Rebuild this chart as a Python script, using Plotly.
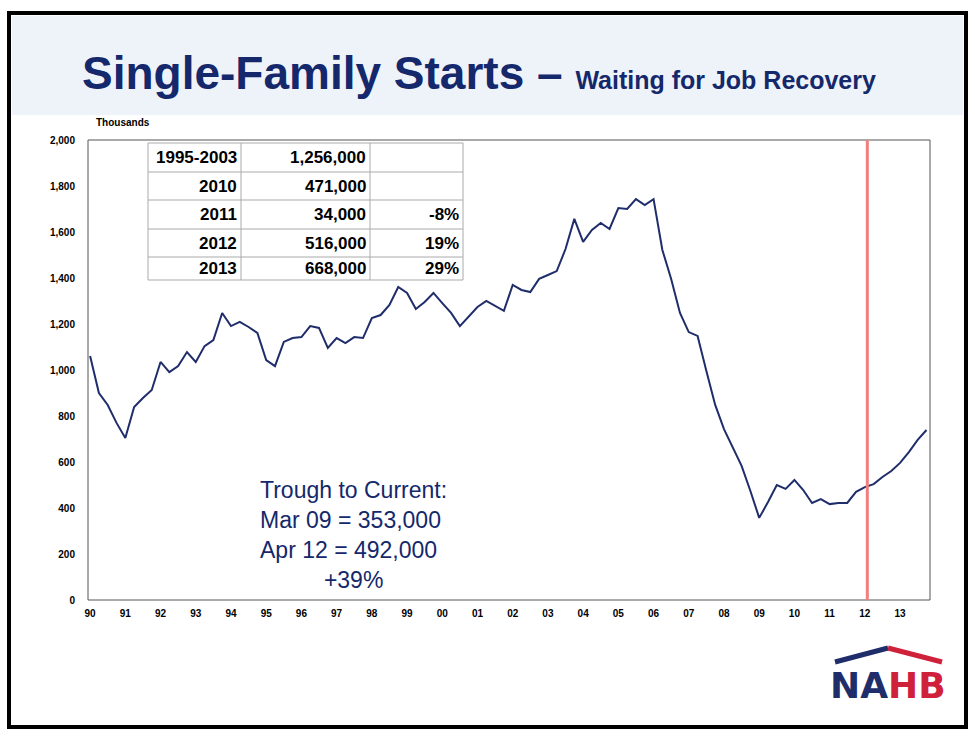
import plotly.graph_objects as go

starts = [1061,900,848,770,704,839,878,913,1035,991,1017,1078,1035,1104,1130,1248,
1191,1209,1187,1161,1043,1017,1122,1139,1143,1191,1183,1096,1139,1117,1143,1139,
1226,1239,1283,1361,1335,1265,1296,1335,1291,1248,1191,1235,1274,1300,1278,1257,
1370,1348,1339,1396,1413,1430,1526,1657,1557,1609,1639,1613,1704,1700,1743,1717,
1743,1522,1396,1248,1165,1148,996,848,743,665,583,474,357,426,500,483,
522,478,422,439,417,422,422,470,491,504,535,561,596,643,696,739]
dates = [1990 + i*0.25 for i in range(len(starts))]
tick_vals = list(range(1990, 2014))
tick_text = [f"{y%100:02d}" for y in tick_vals]
tbl_label = ["1995-2003", "2010", "2011", "2012", "2013"]
tbl_value = ["1,256,000", "471,000", "34,000", "516,000", "668,000"]
tbl_pct = ["", "", "-8%", "19%", "29%"]

W, H = 975, 736
L, R, T, B = 88, 930, 140, 600
def px(x): return (x - L) / (R - L)
def py(y): return (B - y) / (B - T)

fig = go.Figure(go.Scatter(x=dates, y=starts, mode="lines",
                           line=dict(color="#1f2d6b", width=2), hoverinfo="skip"))
shapes = [
    dict(type="rect", xref="paper", yref="paper", x0=px(9), x1=px(966), y0=py(727), y1=py(13),
         line=dict(color="black", width=4), fillcolor="rgba(0,0,0,0)", layer="below"),
    dict(type="rect", xref="paper", yref="paper", x0=px(12), x1=px(963), y0=py(115), y1=py(16),
         line=dict(width=0), fillcolor="#eef3f9", layer="below"),
    dict(type="rect", xref="paper", yref="paper", x0=0, x1=1, y0=0, y1=1,
         line=dict(color="#555", width=1)),
    dict(type="line", x0=2012.07, x1=2012.07, y0=0, y1=2000, line=dict(color="#f08080", width=3)),
]
cols = [148, 241, 370, 463]
rows = [143, 172, 200, 229, 257, 280]
for c in cols:
    shapes.append(dict(type="line", xref="paper", yref="paper", x0=px(c), x1=px(c),
                       y0=py(rows[0]), y1=py(rows[-1]), line=dict(color="#aaa", width=1)))
for r in rows:
    shapes.append(dict(type="line", xref="paper", yref="paper", x0=px(cols[0]), x1=px(cols[-1]),
                       y0=py(r), y1=py(r), line=dict(color="#aaa", width=1)))
shapes += [
    dict(type="line", xref="paper", yref="paper", x0=px(835), x1=px(888), y0=py(662), y1=py(648),
         line=dict(color="#1f2d6b", width=5)),
    dict(type="line", xref="paper", yref="paper", x0=px(888), x1=px(942), y0=py(648), y1=py(662),
         line=dict(color="#d0213a", width=5)),
]
ann = []
for i in range(5):
    yc = py((rows[i] + rows[i+1]) / 2)
    for txt, xr in [(tbl_label[i], 239), (tbl_value[i], 368), (tbl_pct[i], 461)]:
        ann.append(dict(xref="paper", yref="paper", x=px(xr), y=yc, text=f"<b>{txt}</b>",
                        showarrow=False, xanchor="right", yanchor="middle",
                        font=dict(family="Liberation Sans", size=17, color="black")))
ann += [
    dict(xref="paper", yref="paper", x=px(80), y=py(73), xanchor="left", yanchor="middle",
         showarrow=False, text="<b>Single-Family Starts – <span style='font-size:25px'>Waiting for Job Recovery</span></b>",
         font=dict(family="Liberation Sans", size=46, color="#14286b")),
    dict(xref="paper", yref="paper", x=px(94), y=py(122), xanchor="left", yanchor="middle",
         showarrow=False, text="<b>Thousands</b>", font=dict(family="Liberation Sans", size=10, color="black")),
    dict(xref="paper", yref="paper", x=px(258), y=py(535), xanchor="left", yanchor="middle",
         showarrow=False, align="left",
         text="Trough to Current:<br>Mar 09 = 353,000<br>Apr 12 = 492,000<br>          +39%",
         font=dict(family="Liberation Sans", size=23, color="#14286b")),
    dict(xref="paper", yref="paper", x=px(888), y=py(685), xanchor="center", yanchor="middle",
         showarrow=False,
         text="<b><span style='color:#1f2d6b'>NA</span><span style='color:#d0213a'>HB</span></b>",
         font=dict(family="DejaVu Sans", size=36)),
]
tf = dict(family="Liberation Sans", size=10, color="black", weight="bold")
fig.update_layout(
    width=W, height=H, margin=dict(l=L, r=W-R, t=T, b=H-B),
    paper_bgcolor="white", plot_bgcolor="white", showlegend=False,
    shapes=shapes, annotations=ann,
    xaxis=dict(range=[1989.94, 2013.85], tickvals=tick_vals, ticktext=tick_text, showgrid=False,
               ticks="", zeroline=False, tickfont=tf, ticklabelstandoff=6),
    yaxis=dict(range=[0, 2000], tickvals=list(range(0, 2001, 200)), tickformat=",", showgrid=False,
               ticks="", zeroline=False, tickfont=tf, ticklabelstandoff=12),
)
fig.write_html("out.html", config={"displayModeBar": False},
               post_script="document.body.style.margin='0';")
